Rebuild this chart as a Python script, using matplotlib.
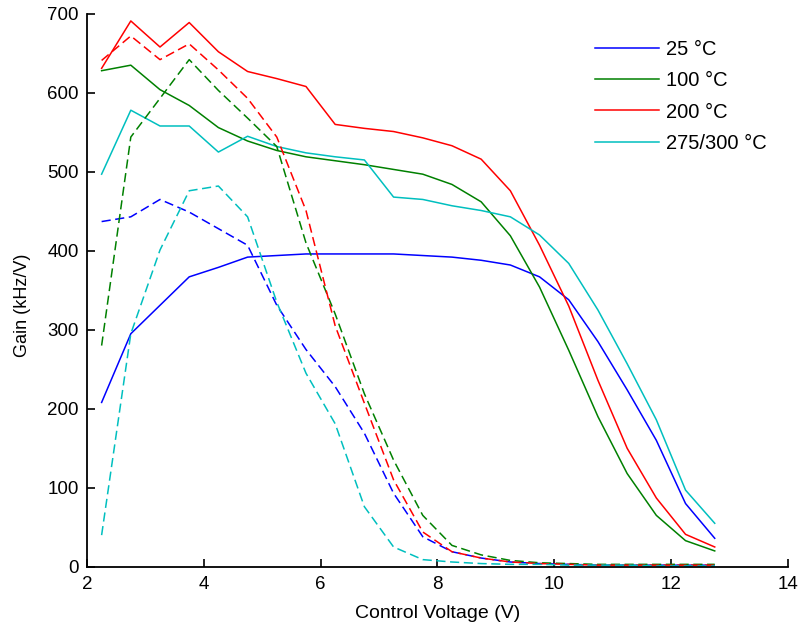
import matplotlib
matplotlib.use("Agg")
import matplotlib.pyplot as plt
import numpy as np

plt.rcParams['font.family'] = ['Liberation Sans', 'DejaVu Sans']

voltage = [2.25, 2.75, 3.25, 3.75, 4.25, 4.75, 5.25, 5.75, 6.25, 6.75, 7.25,
           7.75, 8.25, 8.75, 9.25, 9.75, 10.25, 10.75, 11.25, 11.75, 12.25, 12.75]

labels = ["25 °C", "100 °C", "200 °C", "275/300 °C"]
colors = ["#0000ff", "#008000", "#ff0000", "#00bfbf"]

solid_25 = [208, 295, 331, 367, 379, 392, 394, 396, 396, 396, 396,
            394, 392, 388, 382, 367, 338, 285, 224, 160, 80, 36]
solid_100 = [628, 635, 604, 584, 556, 539, 527, 519, 514, 509, 503,
             497, 484, 462, 419, 354, 274, 190, 118, 65, 33, 20]
solid_200 = [631, 691, 658, 689, 652, 627, 618, 608, 560, 555, 551,
             543, 533, 516, 476, 407, 330, 236, 150, 87, 41, 25]
solid_300 = [497, 578, 558, 558, 525, 545, 532, 524, 519, 515, 468,
             465, 457, 451, 443, 420, 384, 325, 257, 186, 97, 55]

dash_25 = [437, 443, 465, 449, 428, 407, 331, 275, 228, 169, 93,
           38, 19, 11, 6, 4, 3, 2, 2, 2, 2, 2]
dash_100 = [280, 544, 593, 642, 603, 568, 532, 410, 320, 219, 135,
            65, 27, 15, 8, 5, 4, 3, 3, 3, 3, 3]
dash_200 = [641, 672, 642, 662, 629, 593, 544, 451, 305, 207, 110,
            44, 19, 11, 6, 4, 3, 2, 2, 2, 2, 2]
dash_300 = [40, 295, 401, 476, 482, 443, 335, 245, 181, 76, 25,
            9, 6, 4, 3, 3, 2, 2, 2, 1, 1, 1]

solids = [solid_25, solid_100, solid_200, solid_300]
dashes = [dash_25, dash_100, dash_200, dash_300]

fig = plt.figure(figsize=(8.02, 6.29), dpi=100)
ax = fig.add_axes([0.1085, 0.099, 0.8737, 0.879])

for s, lab, c in zip(solids, labels, colors):
    ax.plot(voltage, s, color=c, lw=1.1, label=lab)
for d, c in zip(dashes, colors):
    ax.plot(voltage, d, color=c, lw=1.1, linestyle=(0, (6, 3)))

ax.set_xlim(2, 14)
ax.set_ylim(0, 700)
ax.set_xticks([2, 4, 6, 8, 10, 12, 14])
ax.set_yticks([0, 100, 200, 300, 400, 500, 600, 700])
ax.spines['top'].set_visible(False)
ax.spines['right'].set_visible(False)
ax.spines['left'].set_linewidth(1.3)
ax.spines['bottom'].set_linewidth(1.3)
ax.tick_params(direction='in', length=6, width=1.2, labelsize=13.5)
ax.tick_params(axis='y', pad=6)
ax.tick_params(axis='x', pad=7)
ax.set_xlabel("Control Voltage (V)", fontsize=14, labelpad=8)
ax.set_ylabel("Gain (kHz/V)", fontsize=13)
ax.yaxis.set_label_coords(-0.08, 0.473)

leg = ax.legend(loc='upper left', bbox_to_anchor=(0.725, 0.952), frameon=False,
                fontsize=14.5, handlelength=3.2, labelspacing=0.6, handletextpad=0.3,
                borderpad=0, borderaxespad=0)

fig.savefig("out.png", dpi=100)
